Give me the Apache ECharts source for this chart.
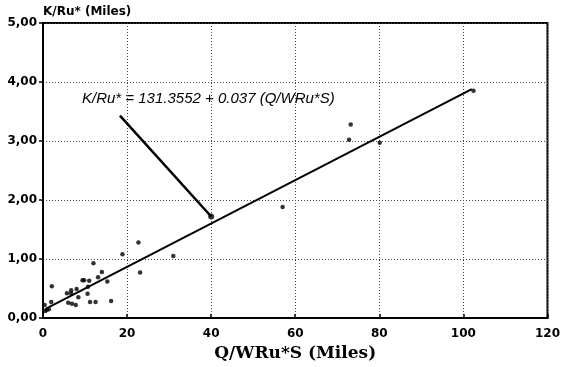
<!DOCTYPE html>
<html><head><meta charset="utf-8">
<script src="https://cdn.jsdelivr.net/npm/echarts@6/dist/echarts.min.js"></script>
<style>html,body{margin:0;padding:0;background:#fff}#c{width:563px;height:367px}</style>
</head><body><div id="c"></div>
<script>
const xTicks = [0, 20, 40, 60, 80, 100, 120];
const yTicks = [0, 1, 2, 3, 4, 5];
const xLabels = ['0', '20', '40', '60', '80', '100', '120'];
const yLabels = ['0,00', '1,00', '2,00', '3,00', '4,00', '5,00'];
const pointsX = [0.4, 0.55, 0.9, 1.4, 1.96, 2.1, 5.7, 6.7, 6.7, 6.0, 6.9, 7.8, 8.0, 8.4, 9.4, 9.8, 11.0, 10.7, 10.6, 11.2, 12.5, 12.0, 13.1, 14.0, 15.3, 16.2, 18.9, 22.7, 23.1, 31.0, 57.0, 73.2, 72.8, 80.1, 102.4];
const pointsY = [0.22, 0.12, 0.14, 0.15, 0.27, 0.54, 0.42, 0.47, 0.42, 0.26, 0.24, 0.22, 0.49, 0.35, 0.64, 0.64, 0.63, 0.53, 0.41, 0.27, 0.27, 0.93, 0.69, 0.78, 0.62, 0.29, 1.08, 1.28, 0.77, 1.05, 1.88, 3.28, 3.02, 2.97, 3.85];
const highlightX = [40];
const highlightY = [1.72];
const fitX = [0.5, 102.0];
const fitY = [0.15, 3.88];
const leaderX = [18.3, 40];
const leaderY = [3.43, 1.72];
const equation = 'K/Ru* = 131.3552 + 0.037 (Q/WRu*S)';
const yTitle = 'K/Ru* (Miles)';
const xTitle = 'Q/WRu*S (Miles)';

const zip = (a, b) => a.map((v, i) => [v, b[i]]);
const chart = echarts.init(document.getElementById('c'));
const labelFont = 'DejaVu Sans';
chart.setOption({
  animation: false,
  backgroundColor: '#fff',
  grid: { left: 43, right: 10, top: 23, bottom: 49, show: true, borderColor: '#000', borderWidth: 2 },
  xAxis: {
    type: 'value', min: 0, max: 120, interval: 20,
    name: xTitle, nameLocation: 'middle', nameGap: 26,
    nameTextStyle: { fontFamily: 'DejaVu Serif', fontWeight: 'bold', fontSize: 17, color: '#000' },
    axisLine: { lineStyle: { color: '#000', width: 2 } },
    axisTick: { show: true, inside: true, length: 4, lineStyle: { color: '#000', width: 1.5 } },
    axisLabel: { margin: 10, fontFamily: labelFont, fontWeight: 'bold', fontSize: 12, color: '#000',
      formatter: v => xLabels[xTicks.indexOf(v)] },
    splitLine: { show: true, lineStyle: { color: '#444', type: [1, 2], width: 1 } }
  },
  yAxis: {
    type: 'value', min: 0, max: 5, interval: 1,
    name: yTitle, nameLocation: 'end', nameGap: 5,
    nameTextStyle: { fontFamily: labelFont, fontWeight: 'bold', fontSize: 12, color: '#000', align: 'left' },
    axisLine: { lineStyle: { color: '#000', width: 2 } },
    axisTick: { show: true, length: 4, lineStyle: { color: '#000', width: 1.5 } },
    axisLabel: { margin: 6, fontFamily: labelFont, fontWeight: 'bold', fontSize: 12, color: '#000',
      formatter: v => yLabels[yTicks.indexOf(v)] },
    splitLine: { show: true, lineStyle: { color: '#444', type: [1, 2], width: 1 } }
  },
  series: [
    { type: 'line', data: zip(fitX, fitY), symbol: 'none', lineStyle: { color: '#000', width: 2 }, z: 3 },
    { type: 'line', data: zip(leaderX, leaderY), symbol: 'none', lineStyle: { color: '#000', width: 2.5 }, z: 3 },
    { type: 'scatter', data: zip(pointsX, pointsY), symbolSize: 4.5, itemStyle: { color: '#000' }, z: 4 },
    { type: 'scatter', data: zip(highlightX, highlightY), symbolSize: 6, itemStyle: { color: '#000' }, z: 4 }
  ],
  graphic: [
    { type: 'text', left: 82, top: 91, style: { text: equation, fontFamily: 'Liberation Sans', fontStyle: 'italic', fontSize: 15, fill: '#000' } }
  ]
});
</script></body></html>
